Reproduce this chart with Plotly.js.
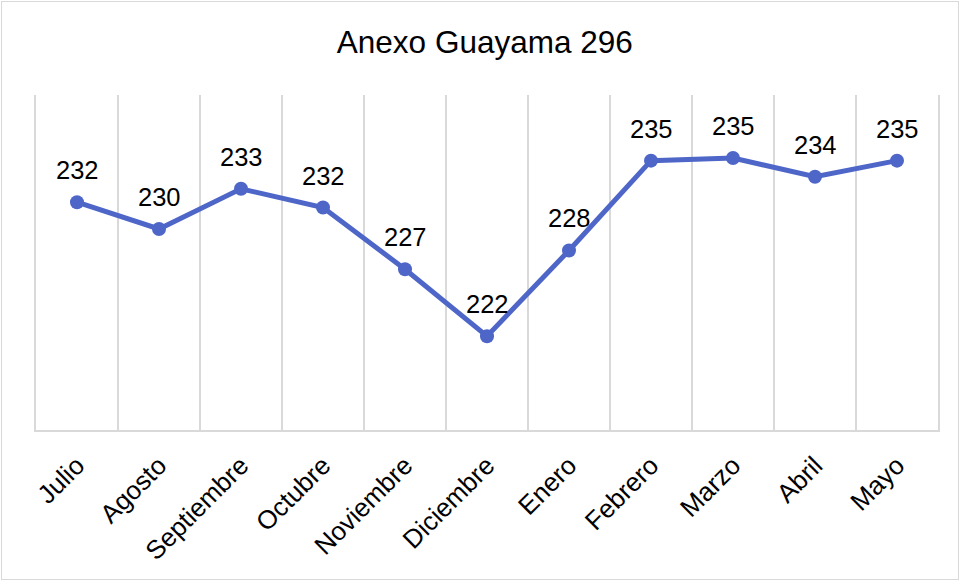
<!DOCTYPE html>
<html>
<head>
<meta charset="utf-8">
<script src="https://cdn.plot.ly/plotly-3.0.1.min.js"></script>
<style>
  html, body { margin: 0; padding: 0; background: #fff; }
  #wrap { position: relative; width: 960px; height: 581px; }
  #chart { width: 960px; height: 581px; }
  #frame { position: absolute; left: 1px; top: 1px; width: 956px; height: 577px; border: 1px solid #d9d9d9; pointer-events: none; }
</style>
</head>
<body>
<div id="wrap"><div id="chart"></div><div id="frame"></div></div>
<script>
const chartTitle = "Anexo Guayama 296";
const months = ["Julio", "Agosto", "Septiembre", "Octubre", "Noviembre", "Diciembre", "Enero", "Febrero", "Marzo", "Abril", "Mayo"];
const values = [232.0, 230.0, 233.0, 231.6, 227.0, 222.0, 228.4, 235.1, 235.3, 233.9, 235.1];
const labels = values.map(v => String(Math.round(v)));

const lineColor = "#4e66c8";
const fontFamily = "Arial, 'Liberation Sans', sans-serif";

const trace = {
  x: months,
  y: values,
  type: "scatter",
  mode: "lines+markers",
  line: { color: lineColor, width: 5 },
  marker: { color: lineColor, size: 14 },
  hoverinfo: "x+y",
  showlegend: false
};

const annotations = months.map((m, i) => ({
  x: m,
  y: values[i],
  xref: "x",
  yref: "y",
  text: labels[i],
  showarrow: false,
  yanchor: "bottom",
  xanchor: "center",
  yshift: 16,
  font: { family: fontFamily, size: 25.5, color: "#000" }
}));

const layout = {
  width: 960,
  height: 581,
  paper_bgcolor: "#fff",
  plot_bgcolor: "#fff",
  margin: { l: 36, r: 22, t: 95, b: 151 },
  title: {
    text: chartTitle,
    font: { family: fontFamily, size: 31.5, color: "#000" },
    x: 0.505,
    xanchor: "center",
    y: 0.927,
    yanchor: "middle"
  },
  font: { family: fontFamily, color: "#000" },
  xaxis: {
    type: "category",
    range: [-0.5, months.length - 0.5],
    tickson: "boundaries",
    showgrid: true,
    gridcolor: "#d9d9d9",
    gridwidth: 2,
    showline: true,
    linecolor: "#d9d9d9",
    linewidth: 2,
    ticks: "",
    tickangle: -45,
    ticklabelstandoff: 8,
    tickfont: { family: fontFamily, size: 26, color: "#000" },
    fixedrange: true
  },
  yaxis: {
    range: [215, 240],
    showgrid: false,
    zeroline: false,
    showticklabels: false,
    showline: true,
    mirror: true,
    linecolor: "#d9d9d9",
    linewidth: 2,
    ticks: "",
    fixedrange: true
  },
  annotations: annotations
};

Plotly.newPlot("chart", [trace], layout, { displayModeBar: false, staticPlot: true });
</script>
</body>
</html>
